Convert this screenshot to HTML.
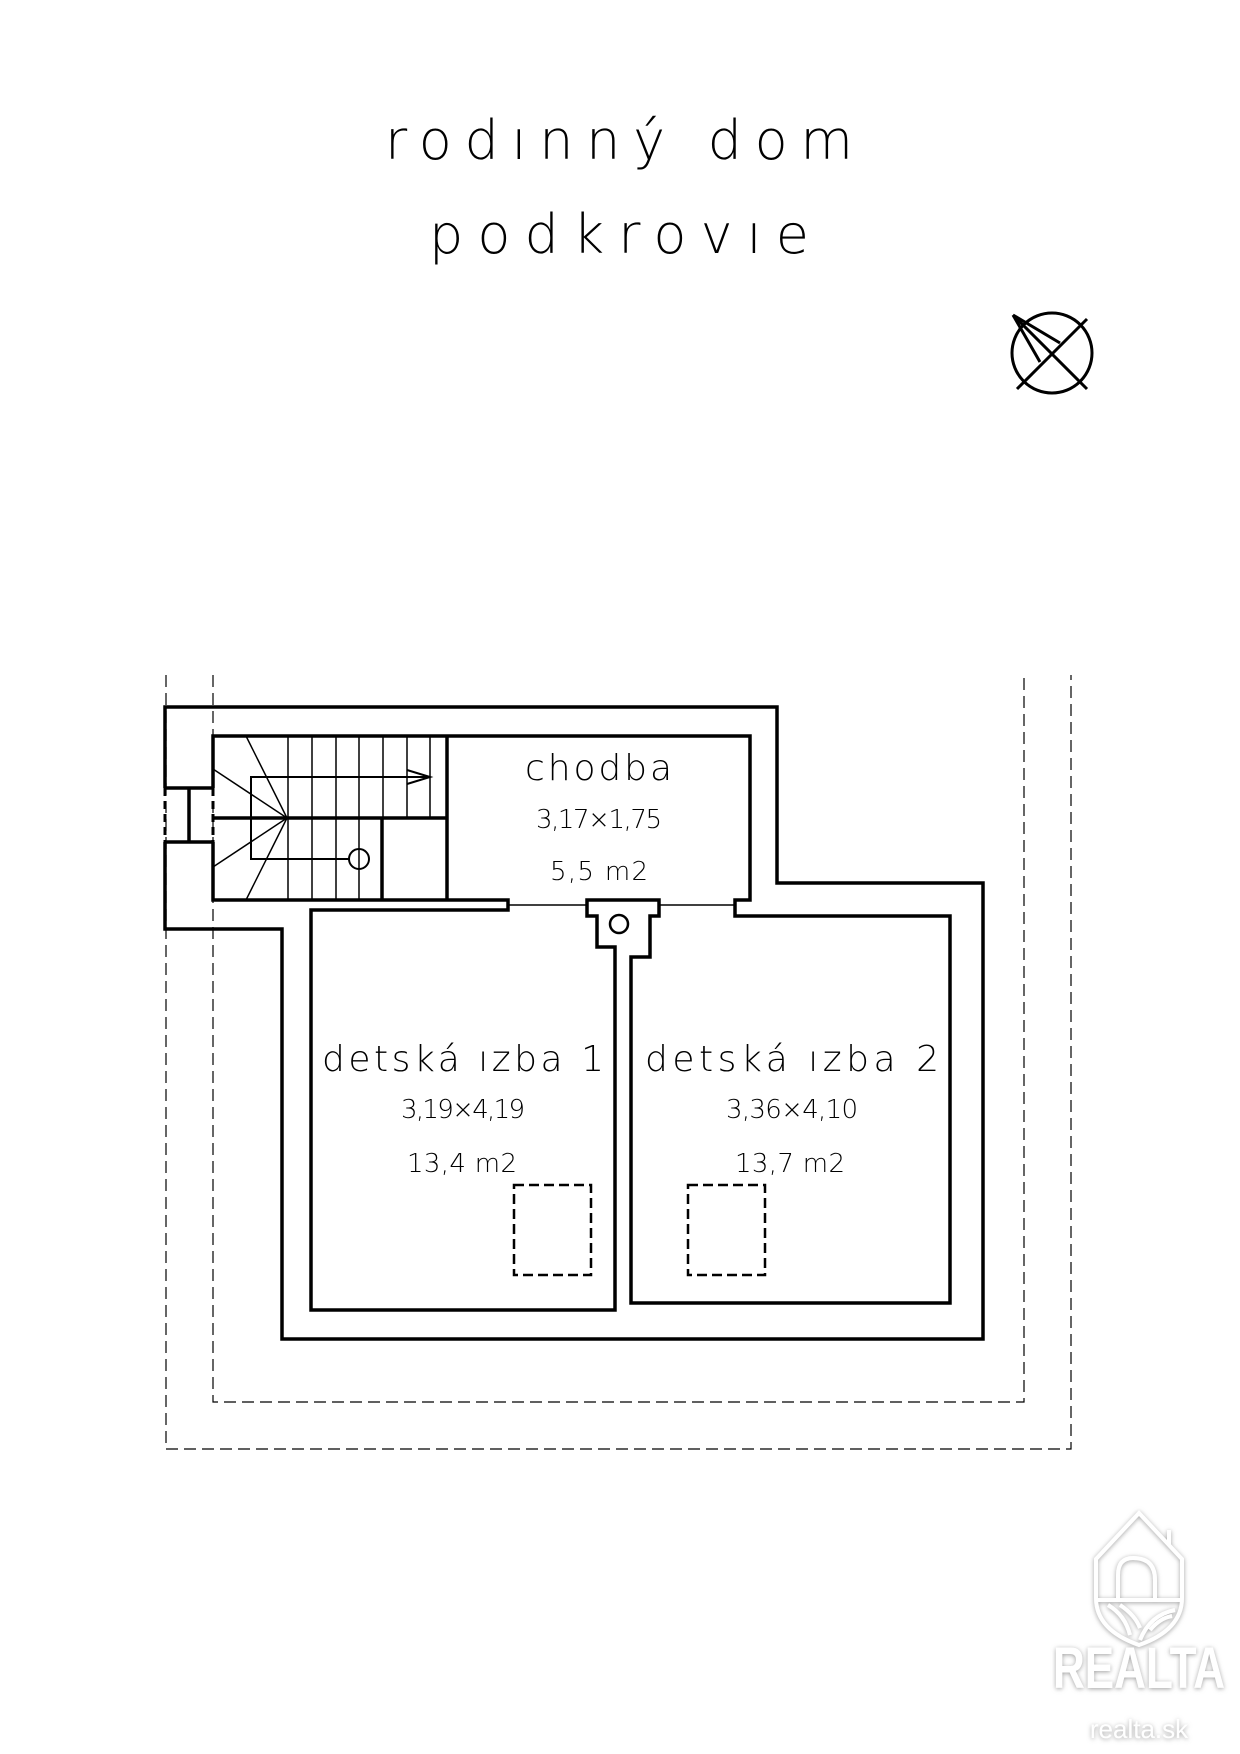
<!DOCTYPE html>
<html><head><meta charset="utf-8"><style>
html,body{margin:0;padding:0;background:#fff}
svg{display:block}
text{font-family:"DejaVu Sans","Liberation Sans",sans-serif;font-weight:200;fill:#000}
</style></head><body>
<svg width="1240" height="1754" viewBox="0 0 1240 1754" xmlns="http://www.w3.org/2000/svg">
<defs><filter id="sh" x="-20%" y="-20%" width="140%" height="140%"><feDropShadow dx="0" dy="1" stdDeviation="2.5" flood-color="#888" flood-opacity="0.8"/></filter></defs>
<text x="385" y="159" font-size="54" textLength="468" lengthAdjust="spacing">rodınný dom</text>
<text x="429" y="253" font-size="54" textLength="380" lengthAdjust="spacing">podkrovıe</text>
<g stroke="#000" stroke-width="3" fill="none">
<circle cx="1052" cy="353" r="40"/>
<line x1="1017" y1="389" x2="1087" y2="319"/>
<line x1="1013" y1="315" x2="1087" y2="389"/>
<line x1="1013" y1="315" x2="1060" y2="343"/>
<line x1="1013" y1="315" x2="1040" y2="362"/>
</g>
<g stroke="#000" stroke-width="1.2" fill="none" stroke-dasharray="12 6">
<polyline points="166,675 166,1449 1071,1449 1071,675"/>
<polyline points="213,675 213,1402 1024,1402 1024,675"/>
</g>
<g stroke="#000" stroke-width="3.5" fill="none" stroke-linejoin="miter">
<polyline points="165,788 165,707 777,707 777,883 983,883 983,1339 282,1339 282,929 165,929 165,842"/>
<line x1="165" y1="788" x2="213" y2="788"/>
<line x1="165" y1="842" x2="213" y2="842"/>
<line x1="189" y1="788" x2="189" y2="842"/>
<polyline points="213,788 213,736 750,736 750,900 735,900 735,916 950,916 950,1303 631,1303 631,957 650,957 650,916 659,916 659,900 587,900 587,916 597,916 597,947 615,947 615,1310 311,1310 311,910 508,910 508,900 213,900 213,842"/>
<line x1="447" y1="736" x2="447" y2="900"/>
<line x1="213" y1="818" x2="447" y2="818"/>
<line x1="382" y1="818" x2="382" y2="900"/>
</g>
<g stroke="#000" stroke-width="3" fill="none" stroke-dasharray="8 5">
<line x1="165" y1="788" x2="165" y2="842"/>
<line x1="213" y1="788" x2="213" y2="842"/>
</g>
<g stroke="#000" stroke-width="1.5" fill="none">
<line x1="508" y1="905" x2="587" y2="905"/>
<line x1="659" y1="905" x2="735" y2="905"/>
<line x1="288" y1="736" x2="288" y2="900"/>
<line x1="312" y1="736" x2="312" y2="900"/>
<line x1="336" y1="736" x2="336" y2="900"/>
<line x1="359" y1="736" x2="359" y2="900"/>
<line x1="383" y1="736" x2="383" y2="818"/>
<line x1="407" y1="736" x2="407" y2="818"/>
<line x1="430" y1="736" x2="430" y2="818"/>
<line x1="287" y1="818" x2="246" y2="736"/>
<line x1="287" y1="818" x2="213" y2="769"/>
<line x1="287" y1="818" x2="213" y2="867"/>
<line x1="287" y1="818" x2="246" y2="900"/>
<polyline points="430,777 251,777 251,859 349,859" stroke-width="2"/>
<circle cx="359" cy="859" r="10" stroke-width="2"/>
<polyline points="407,770 430,777 407,784" stroke-width="2"/>
<circle cx="619" cy="924" r="9" stroke-width="2.5"/>
</g>
<g stroke="#000" stroke-width="2.5" fill="none" stroke-dasharray="10 5">
<rect x="514" y="1185" width="77" height="90"/>
<rect x="688" y="1185" width="77" height="90"/>
</g>
<g>
<text x="525" y="780" font-size="36" textLength="147" lengthAdjust="spacing">chodba</text>
<text x="536" y="828" font-size="26" textLength="126" lengthAdjust="spacing">3,17×1,75</text>
<text x="550" y="880" font-size="26" textLength="98" lengthAdjust="spacing">5,5 m2</text>
<text x="322" y="1071" font-size="36" textLength="282" lengthAdjust="spacing">detská ızba 1</text>
<text x="401" y="1118" font-size="26" textLength="124" lengthAdjust="spacing">3,19×4,19</text>
<text x="407" y="1172" font-size="26" textLength="110" lengthAdjust="spacing">13,4 m2</text>
<text x="645" y="1071" font-size="36" textLength="294" lengthAdjust="spacing">detská ızba 2</text>
<text x="726" y="1118" font-size="26" textLength="132" lengthAdjust="spacing">3,36×4,10</text>
<text x="735" y="1172" font-size="26" textLength="110" lengthAdjust="spacing">13,7 m2</text>
</g>
<g filter="url(#sh)">
<g stroke="#fff" stroke-width="4" fill="none">
<path d="M1096,1598 L1096,1559 L1139,1513 L1182,1559 L1182,1598 Q1182,1630 1139,1645 Q1096,1630 1096,1598 Z"/>
<line x1="1169" y1="1530" x2="1169" y2="1545"/>
<path d="M1118,1600 L1118,1575 Q1118,1558 1133,1558 Q1155,1558 1155,1580 L1155,1600"/>
<line x1="1096" y1="1600" x2="1182" y2="1600"/>
<path d="M1108,1605 Q1125,1615 1130,1635"/>
<path d="M1120,1605 Q1135,1615 1140,1628"/>
<path d="M1140,1640 Q1150,1615 1175,1610"/>
<path d="M1150,1630 Q1160,1618 1172,1616"/>
</g>
<text x="1139" y="1688" font-size="58" text-anchor="middle" style="fill:#fff;font-family:'Liberation Sans',sans-serif;font-weight:700" textLength="172" lengthAdjust="spacingAndGlyphs">REALTA</text>
<text x="1139" y="1738" font-size="26" text-anchor="middle" style="fill:#fff;font-family:'Liberation Sans',sans-serif;font-weight:400">realta.sk</text>
</g>
</svg>
</body></html>
